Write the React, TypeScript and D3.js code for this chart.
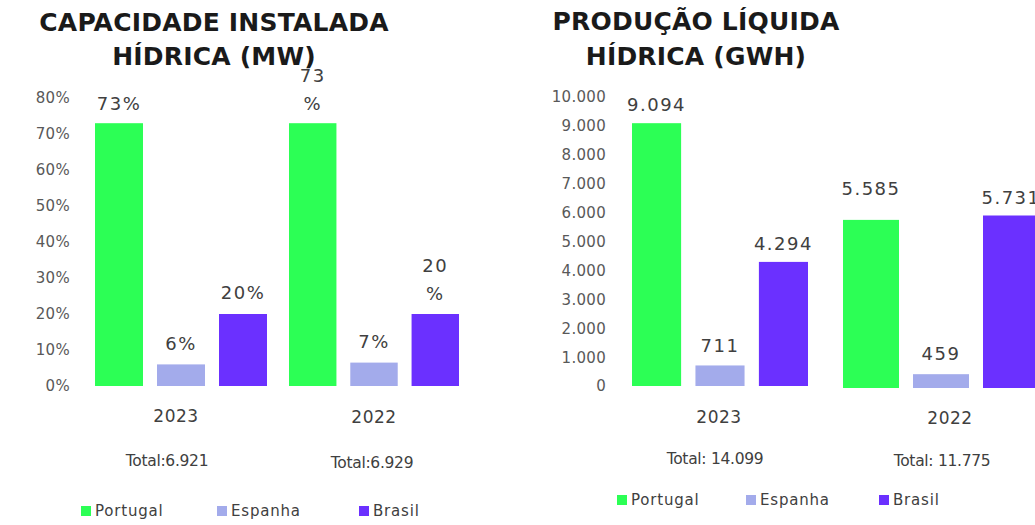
import React from "react";
import * as d3 from "d3";

// ---------- DATA ----------
const years = ["2023", "2022"];
const series = ["Portugal", "Espanha", "Brasil"];
const seriesColors = ["#2CFF55", "#A3ABEB", "#6B30FF"];

const capacity2023 = [73, 6, 20];
const capacity2022 = [73, 6.5, 20];
const capacityLabels2023 = ["73%", "6%", "20%"];
const capacityLabels2022 = ["73\n%", "7%", "20\n%"];
const capacityTotals = ["Total:6.921", "Total:6.929"];
const capacityTicks = [0, 10, 20, 30, 40, 50, 60, 70, 80];
const capacityTitle = ["CAPACIDADE INSTALADA", "HÍDRICA (MW)"];

const production2023 = [9094, 711, 4294];
const production2022 = [5585, 459, 5731];
const productionLabels2023 = ["9.094", "711", "4.294"];
const productionLabels2022 = ["5.585", "459", "5.731"];
const productionTotals = ["Total: 14.099", "Total: 11.775"];
const productionTicks = [0, 1000, 2000, 3000, 4000, 5000, 6000, 7000, 8000, 9000, 10000];
const productionTitle = ["PRODUÇÃO LÍQUIDA", "HÍDRICA (GWH)"];

// ---------- FORMAT ----------
const ptLocale = d3.formatLocale({ decimal: ",", thousands: ".", grouping: [3], currency: ["", ""] });
const fmtThousands = ptLocale.format(",d");
const fmtPct = (v: number) => `${v}%`;

const FONT = "'DejaVu Sans', sans-serif";
const TITLE_FONT = "'DejaVu Sans', sans-serif";

type Group = {
  year: string;
  values: number[];
  labels: string[];
  total: string;
  x: [number, number];
  y: [number, number];
  pad: number;
  lift: number[];
  yearPos: [number, number];
  totalPos: [number, number];
};

type ChartSpec = {
  title: string[];
  titleX: number;
  titleY: [number, number];
  domainMax: number;
  ticks: number[];
  tickFmt: (v: number) => string;
  axisX: number;
  axisY: [number, number];
  groups: Group[];
  legendY: number;
  legendX: number[];
};

const charts: ChartSpec[] = [
  {
    title: capacityTitle,
    titleX: 214,
    titleY: [31, 65],
    domainMax: 80,
    ticks: capacityTicks,
    tickFmt: fmtPct,
    axisX: 70,
    axisY: [386, 98],
    groups: [
      { year: years[0], values: capacity2023, labels: capacityLabels2023, total: capacityTotals[0], x: [95, 267], y: [386, 98], pad: 0.226, lift: [20, 21, 21], yearPos: [176, 416], totalPos: [167, 460] },
      { year: years[1], values: capacity2022, labels: capacityLabels2022, total: capacityTotals[1], x: [289, 459], y: [386, 98], pad: 0.226, lift: [20, 21, 20], yearPos: [374, 417], totalPos: [372, 462] },
    ],
    legendY: 511,
    legendX: [81, 217, 359],
  },
  {
    title: productionTitle,
    titleX: 696,
    titleY: [30, 65],
    domainMax: 10000,
    ticks: productionTicks,
    tickFmt: fmtThousands,
    axisX: 606,
    axisY: [386, 97],
    groups: [
      { year: years[0], values: production2023, labels: productionLabels2023, total: productionTotals[0], x: [632, 808], y: [386, 97], pad: 0.226, lift: [19, 20, 18], yearPos: [719, 417], totalPos: [715, 458] },
      { year: years[1], values: production2022, labels: productionLabels2022, total: productionTotals[1], x: [843, 1039], y: [388, 87], pad: 0.2, lift: [31, 21, 18], yearPos: [950, 418], totalPos: [942, 460] },
    ],
    legendY: 500,
    legendX: [617, 746, 879],
  },
];

function Chart({ spec }: { spec: ChartSpec }) {
  const axisScale = d3.scaleLinear().domain([0, spec.domainMax]).range(spec.axisY);
  return (
    <g>
      {spec.title.map((t, i) => (
        <text key={t} x={spec.titleX} y={spec.titleY[i]} textAnchor="middle" fontFamily={TITLE_FONT} fontWeight={700} fontSize={25} fill="#1a1a1a" letterSpacing={0.2}>
          {t}
        </text>
      ))}
      {spec.ticks.map((t) => (
        <text key={t} x={spec.axisX} y={axisScale(t)} dy="0.36em" textAnchor="end" fontFamily={FONT} fontSize={15} fill="#595959" letterSpacing={0.3}>
          {spec.tickFmt(t)}
        </text>
      ))}
      {spec.groups.map((g) => {
        const xb = d3.scaleBand<string>().domain(series).range(g.x).paddingInner(g.pad).paddingOuter(0);
        const y = d3.scaleLinear().domain([0, spec.domainMax]).range(g.y);
        return (
          <g key={g.year}>
            {series.map((s, i) => {
              const top = y(g.values[i]);
              const cx = (xb(s) as number) + xb.bandwidth() / 2;
              const lines = g.labels[i].split("\n");
              return (
                <g key={s}>
                  <rect x={xb(s)} y={top} width={xb.bandwidth()} height={y(0) - top} fill={seriesColors[i]} />
                  {lines.map((ln, j) => (
                    <text key={j} x={cx} y={top - g.lift[i] - (lines.length - 1 - j) * 28} dy="0.36em" textAnchor="middle" fontFamily={FONT} fontSize={18} fill="#404040" letterSpacing={1.5}>
                      {ln}
                    </text>
                  ))}
                </g>
              );
            })}
            <text x={g.yearPos[0]} y={g.yearPos[1]} dy="0.36em" textAnchor="middle" fontFamily={FONT} fontSize={17} fill="#404040" letterSpacing={0.5}>
              {g.year}
            </text>
            <text x={g.totalPos[0]} y={g.totalPos[1]} dy="0.36em" textAnchor="middle" fontFamily={FONT} fontSize={15.5} fill="#404040" letterSpacing={-0.3}>
              {g.total}
            </text>
          </g>
        );
      })}
      {series.map((s, i) => (
        <g key={s}>
          <rect x={spec.legendX[i]} y={spec.legendY - 5} width={10} height={10} fill={seriesColors[i]} />
          <text x={spec.legendX[i] + 14} y={spec.legendY} dy="0.36em" fontFamily={FONT} fontSize={15} fill="#404040" letterSpacing={0.8}>
            {s}
          </text>
        </g>
      ))}
    </g>
  );
}

export default function App() {
  return (
    <div style={{ position: "absolute", left: 0, top: 0, width: 1035, height: 525, overflow: "hidden", background: "#fff" }}>
      <svg width={1035} height={525} viewBox="0 0 1035 525">
        <rect width={1035} height={525} fill="#fff" />
        {charts.map((c, i) => (
          <Chart key={i} spec={c} />
        ))}
      </svg>
    </div>
  );
}
